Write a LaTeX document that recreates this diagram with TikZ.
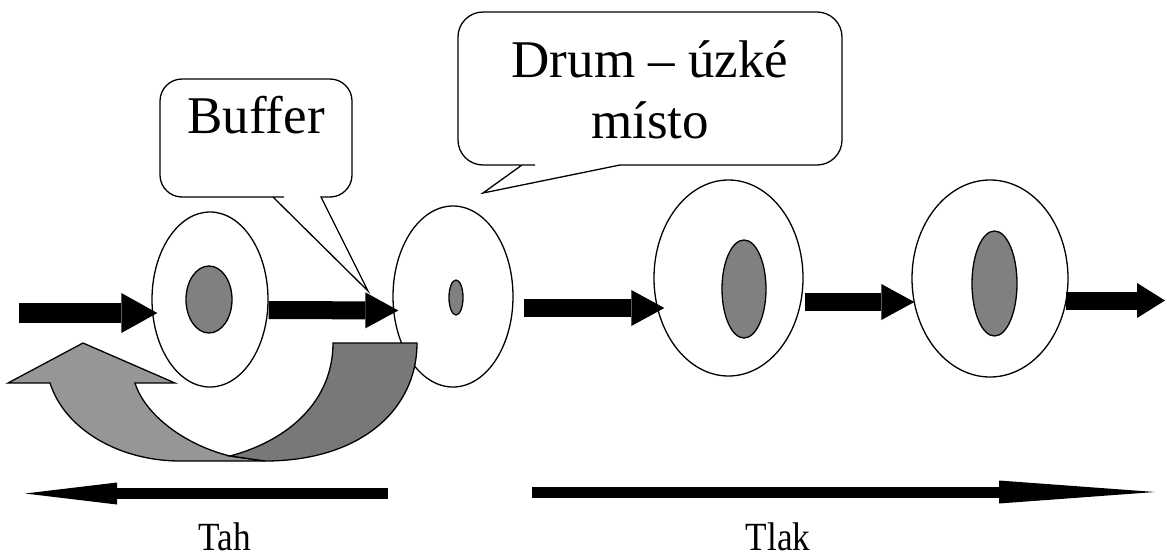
\documentclass[tikz,border=0pt]{standalone}
\usepackage{fontspec}
\setmainfont{Liberation Serif}
\newfontfamily\uzkePismo[FakeStretch=0.88]{Liberation Serif}
\usetikzlibrary{shapes.geometric,arrows.meta,calc}
\definecolor{svetla}{gray}{0.59}
\definecolor{tmava}{gray}{0.47}
\tikzstyle{kolo} = [ellipse, draw=black, fill=white, line width=1.3pt, inner sep=0pt]
\tikzstyle{jadro} = [ellipse, draw=black, fill=gray, line width=1.3pt, inner sep=0pt]
\tikzstyle{sipka} = [line width=18pt, -{Triangle[length=33pt,width=36pt,line width=0pt]}]
\tikzstyle{dlouha} = [line width=11pt, -{Triangle[length=92pt,width=22pt,line width=0pt]}]
\tikzstyle{bublina} = [draw=black, fill=white, line width=1.3pt]
\tikzstyle{napis} = [font=\fontsize{53}{61}\selectfont, inner sep=0pt, anchor=base]
\tikzstyle{popis} = [font=\uzkePismo\fontsize{40}{44}\selectfont, inner sep=0pt, anchor=base]

\begin{document}
\begin{tikzpicture}[x=1pt, y=-1pt]
                \useasboundingbox (0,0) rectangle (1167,557);

                \node (kolo1) [kolo, minimum width=116pt, minimum height=175pt] at (210,299.5) {};
                \node (jadro1) [jadro, minimum width=46pt, minimum height=67pt] at (209,299.5) {};
                \node (kolo2) [kolo, minimum width=120pt, minimum height=181pt] at (453,296.5) {};
                \node (jadro2) [jadro, minimum width=14pt, minimum height=35pt] at (456,297.5) {};
                \node (kolo3) [kolo, minimum width=149pt, minimum height=196pt] at (728.5,278) {};
                \node (jadro3) [jadro, minimum width=44pt, minimum height=98pt] at (744,289) {};
                \node (kolo4) [kolo, minimum width=156pt, minimum height=197pt] at (990,278.5) {};
                \node (jadro4) [jadro, minimum width=45pt, minimum height=105pt] at (994.5,283.5) {};

                \draw[fill=svetla, line width=1.3pt] (83,343) -- (175,383) -- (135,383)
                    .. controls (145,415) and (185,445) .. (230,456) -- (265,461) -- (180,461)
                    .. controls (120,461) and (65,430) .. (50,383) -- (8,383) -- cycle;
                \draw[fill=tmava, line width=1.3pt] (333,343) -- (417,343)
                    .. controls (417,410) and (360,461) .. (265,461) -- (230,456)
                    .. controls (290,440) and (333,400) .. (333,343) -- cycle;

                \coordinate (vstup) at (19,313);
                \coordinate (vystup) at (1165,300.5);
                \draw[sipka, line width=20pt, -{Triangle[length=36pt,width=40pt,line width=0pt]}] (vstup) -- ($(kolo1.west)+(6,13.5)$);
                \draw[sipka] ($(kolo1.east)+(0,10.5)$) -- ($(kolo2.west)+(6,14)$);
                \draw[sipka] ($(kolo2.east)+(10,11.5)$) -- ($(kolo3.west)+(11,30)$);
                \draw[sipka] ($(kolo3.east)+(1,24)$) -- ($(kolo4.west)+(3,23.5)$);
                \draw[sipka, -{Triangle[length=28pt,width=35pt,line width=0pt]}] ($(kolo4.east)+(-3,22)$) -- (vystup);

                \draw[bublina] (368,291) -- (321,197) -- (330,197) [rounded corners=22pt] -- (352,197) -- (352,79)
                    -- (160,79) -- (160,197) -- (262,197) [sharp corners] -- (273,197) -- cycle;
                \node (buffer) [napis] at (256,133) {Buffer};

                \draw[bublina] (483,193) -- (620,165) -- (630,165) [rounded corners=25pt] -- (842,165) -- (842,12)
                    -- (458,12) -- (458,165) -- (510,165) [sharp corners] -- (522,165) -- cycle;
                \node (drum) [napis, align=center] at (650,138) {Drum – úzké\\místo};

                \coordinate (tahZacatek) at (388,493.5);
                \coordinate (tahKonec) at (25,493.5);
                \coordinate (tlakZacatek) at (532,492);
                \coordinate (tlakKonec) at (1155,492);
                \draw[dlouha] (tahZacatek) -- (tahKonec);
                \draw[dlouha, -{Triangle[length=156pt,width=23pt,line width=0pt]}] (tlakZacatek) -- (tlakKonec);
                \node (tah) [popis] at (225,550) {Tah};
                \node (tlak) [popis] at (778,550) {Tlak};
\end{tikzpicture}
\end{document}
